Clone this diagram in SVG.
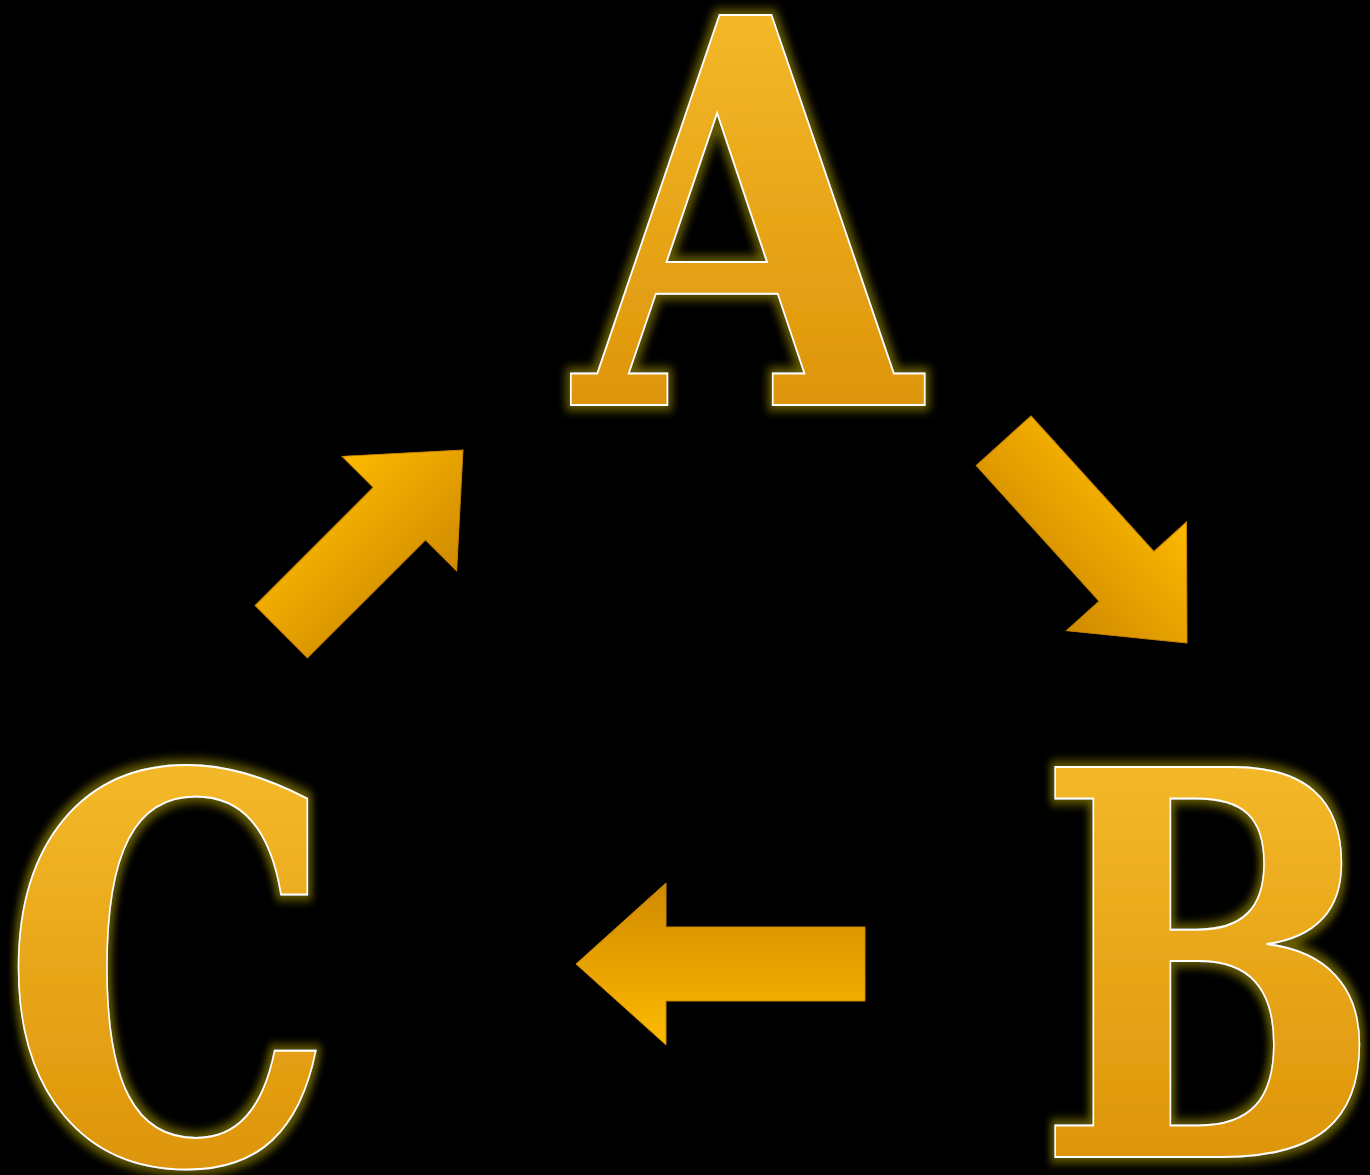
<svg xmlns="http://www.w3.org/2000/svg" width="1370" height="1175" viewBox="0 0 1370 1175">
<defs>
<linearGradient id="lg" x1="0" y1="0" x2="0" y2="1">
<stop offset="0" stop-color="#f9c232"/>
<stop offset="1" stop-color="#d78a00"/>
</linearGradient>
<linearGradient id="ag" x1="0" y1="0" x2="0" y2="1">
<stop offset="0" stop-color="#d08a00"/>
<stop offset="1" stop-color="#fdba00"/>
</linearGradient>
<filter id="glow" x="-20%" y="-20%" width="140%" height="140%">
<feMorphology in="SourceAlpha" operator="dilate" radius="5" result="d"/>
<feGaussianBlur in="d" stdDeviation="5" result="b"/>
<feFlood flood-color="#635a00"/>
<feComposite in2="b" operator="in" result="g"/>
<feMerge><feMergeNode in="g"/><feMergeNode in="SourceGraphic"/></feMerge>
</filter>
</defs>
<style>
.letter{font-family:"DejaVu Serif",serif;font-weight:bold;font-size:535px;fill:url(#lg);stroke:#ffffff;stroke-width:2;text-anchor:middle;filter:url(#glow)}
.arrow{fill:url(#ag);stroke:#c88400;stroke-width:1}
</style>
<rect width="1370" height="1175" fill="#000000"/>
<g id="node-A" transform="translate(747,405) scale(0.832,1)"><text class="letter" x="0" y="0">A</text></g>
<g id="node-B" transform="translate(1209,1157) scale(0.765,1)"><text class="letter" x="0" y="0">B</text></g>
<g id="node-C" transform="translate(169,1162) scale(0.79,1)"><text class="letter" x="0" y="0">C</text></g>
<g id="connectors">
<polygon class="arrow" transform="translate(1187,643) rotate(-132.2)" points="0,0 90,-81 90,-37 273,-37 273,37 90,37 90,81"/>
<polygon class="arrow" transform="translate(576,964)" points="0,0 90,-81 90,-37 289,-37 289,37 90,37 90,81"/>
<polygon class="arrow" transform="translate(463,450) rotate(135)" points="0,0 90,-81 90,-37 257,-37 257,37 90,37 90,81"/>
</g>
</svg>
